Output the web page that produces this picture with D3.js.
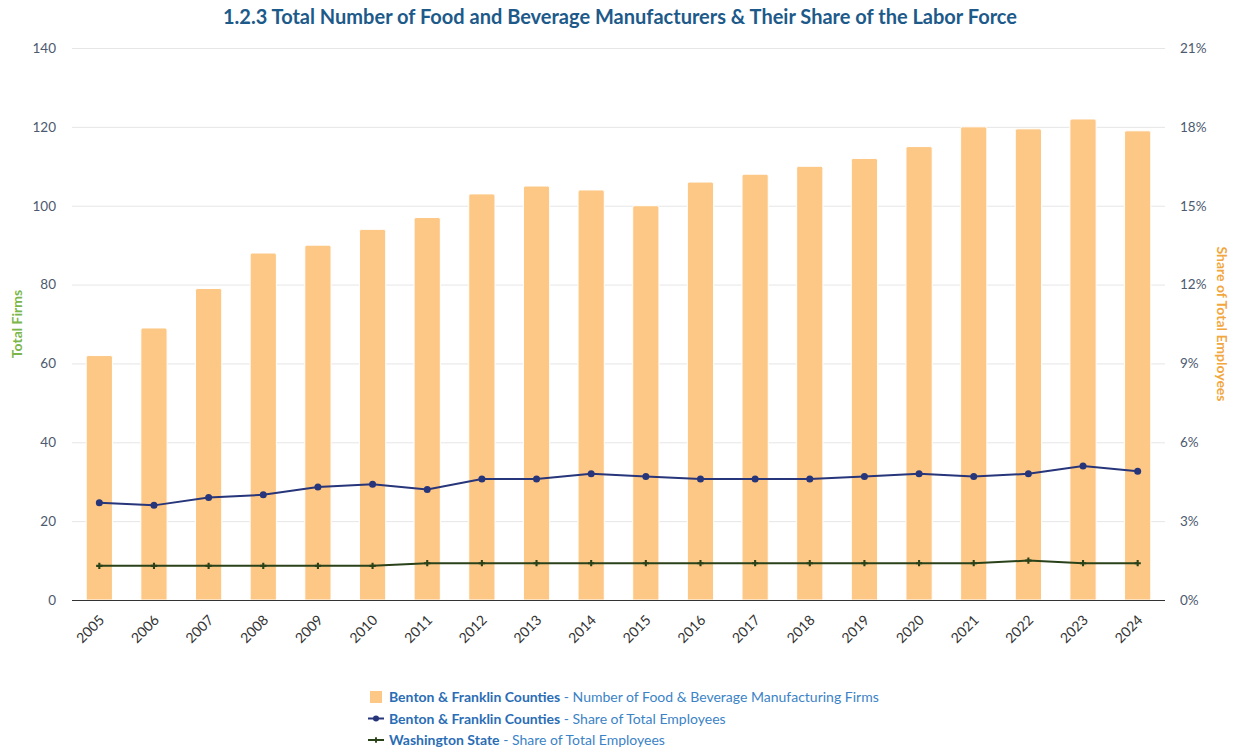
<!DOCTYPE html>
<html>
<head>
<meta charset="utf-8">
<script src="https://cdn.jsdelivr.net/npm/d3@7"></script>
<style>
    body { margin: 0; background: #fff; font-family: Lato, "Open Sans", sans-serif; }
</style>
</head>
<body>
<div id="container"></div>
<script>
// Chart data.
const years = ['2005', '2006', '2007', '2008', '2009', '2010', '2011', '2012', '2013', '2014',
    '2015', '2016', '2017', '2018', '2019', '2020', '2021', '2022', '2023', '2024'];
const firms = [62, 69, 79, 88, 90, 94, 97, 103, 105, 104, 100, 106, 108, 110, 112, 115, 120, 119.5, 122, 119];
const shareBF = [3.7, 3.6, 3.9, 4.0, 4.3, 4.4, 4.2, 4.6, 4.6, 4.8, 4.7, 4.6, 4.6, 4.6, 4.7, 4.8, 4.7, 4.8, 5.1, 4.9];
const shareWA = [1.3, 1.3, 1.3, 1.3, 1.3, 1.3, 1.4, 1.4, 1.4, 1.4, 1.4, 1.4, 1.4, 1.4, 1.4, 1.4, 1.4, 1.5, 1.4, 1.4];
const leftTicks = [0, 20, 40, 60, 80, 100, 120, 140];
const rightTicks = [0, 3, 6, 9, 12, 15, 18, 21];

const barColor = '#fdc886';
const blueColor = '#27357a';
const greenColor = '#2a4219';

window.addEventListener('DOMContentLoaded', () => {

    const width = 1235, height = 753;
    const left = 72, right = 1165, top = 48, bottom = 600;

    const svg = d3.select('#container')
        .append('svg')
        .attr('width', width)
        .attr('height', height);

    const x = d3.scaleBand().domain(years).range([left, right]).paddingInner(0.52).paddingOuter(0.26);
    const xc = d => x(d) + x.bandwidth() / 2;
    const yL = d3.scaleLinear().domain([0, 140]).range([bottom, top]);
    const yR = d3.scaleLinear().domain([0, 21]).range([bottom, top]);

    // Title.
    svg.append('text')
        .attr('x', 620)
        .attr('y', 24)
        .attr('text-anchor', 'middle')
        .attr('font-size', 20)
        .attr('font-weight', 'bold')
        .attr('fill', '#1d5a8a')
        .text('1.2.3 Total Number of Food and Beverage Manufacturers & Their Share of the Labor Force');

    // Gridlines.
    svg.append('g')
        .attr('transform', `translate(${left},0)`)
        .call(d3.axisLeft(yL).tickValues(leftTicks).tickSize(-(right - left)).tickFormat(''))
        .call(g => g.select('.domain').remove())
        .call(g => g.selectAll('line').attr('stroke', '#e6e6e6'));

    // Left axis labels.
    svg.append('g')
        .attr('transform', `translate(${left},0)`)
        .call(d3.axisLeft(yL).tickValues(leftTicks).tickSize(0).tickPadding(16))
        .call(g => g.select('.domain').remove())
        .call(g => g.selectAll('text')
            .attr('font-family', 'Lato, sans-serif')
            .attr('font-size', 13.5)
            .attr('fill', '#4d5a6e'));

    // Right axis labels.
    svg.append('g')
        .attr('transform', `translate(${right},0)`)
        .call(d3.axisRight(yR).tickValues(rightTicks).tickSize(0).tickPadding(15).tickFormat(d => d + '%'))
        .call(g => g.select('.domain').remove())
        .call(g => g.selectAll('text')
            .attr('font-family', 'Lato, sans-serif')
            .attr('font-size', 13.5)
            .attr('fill', '#4d5a6e'));

    // Axis titles.
    svg.append('text')
        .attr('transform', `translate(22,${(top + bottom) / 2}) rotate(-90)`)
        .attr('text-anchor', 'middle')
        .attr('font-size', 14)
        .attr('font-weight', 'bold')
        .attr('fill', '#7ab648')
        .text('Total Firms');

    svg.append('text')
        .attr('transform', `translate(1217,${(top + bottom) / 2}) rotate(90)`)
        .attr('text-anchor', 'middle')
        .attr('font-size', 14)
        .attr('font-weight', 'bold')
        .attr('fill', '#f2a73e')
        .text('Share of Total Employees');

    // Bars with small rounded tops and a white border.
    const r = 2;
    svg.append('g')
        .selectAll('path')
        .data(firms)
        .enter()
        .append('path')
        .attr('d', (d, i) => {
            const x0 = x(years[i]), w = x.bandwidth(), y0 = yL(d), y1 = yL(0);
            return `M${x0},${y1}V${y0 + r}Q${x0},${y0} ${x0 + r},${y0}H${x0 + w - r}Q${x0 + w},${y0} ${x0 + w},${y0 + r}V${y1}Z`;
        })
        .attr('fill', barColor)
        .attr('stroke', '#fff')
        .attr('stroke-width', 1);

    // Bottom axis.
    svg.append('g')
        .attr('transform', `translate(0,${bottom})`)
        .call(d3.axisBottom(x).tickSize(0).tickPadding(12))
        .call(g => g.select('.domain').attr('stroke', '#333').attr('d', `M${left},0.5H${right}`))
        .call(g => g.selectAll('text')
            .attr('font-family', 'Lato, sans-serif')
            .attr('font-size', 14)
            .attr('fill', '#333')
            .attr('text-anchor', 'end')
            .attr('dy', '0.35em')
            .attr('transform', 'translate(-6,9) rotate(-45)'));

    // Lines.
    const lineBF = d3.line().x((d, i) => xc(years[i])).y(d => yR(d));

    svg.append('path')
        .datum(shareBF)
        .attr('d', lineBF)
        .attr('fill', 'none')
        .attr('stroke', blueColor)
        .attr('stroke-width', 2);

    svg.append('g')
        .selectAll('circle')
        .data(shareBF)
        .enter()
        .append('circle')
        .attr('cx', (d, i) => xc(years[i]))
        .attr('cy', d => yR(d))
        .attr('r', 3.5)
        .attr('fill', blueColor);

    svg.append('path')
        .datum(shareWA)
        .attr('d', lineBF)
        .attr('fill', 'none')
        .attr('stroke', greenColor)
        .attr('stroke-width', 2);

    svg.append('g')
        .selectAll('path')
        .data(shareWA)
        .enter()
        .append('path')
        .attr('transform', (d, i) => `translate(${xc(years[i])},${yR(d)})`)
        .attr('d', d3.symbol(d3.symbolCross, 22))
        .attr('fill', greenColor);

    // Legend.
    const legend = [
        { bold: 'Benton & Franklin Counties', rest: ' - Number of Food & Beverage Manufacturing Firms', type: 'bar' },
        { bold: 'Benton & Franklin Counties', rest: ' - Share of Total Employees', type: 'blue' },
        { bold: 'Washington State', rest: ' - Share of Total Employees', type: 'green' }
    ];

    const lg = svg.append('g');
    legend.forEach((item, i) => {
        const ly = 697 + i * 21.5;
        if (item.type === 'bar') {
            lg.append('rect')
                .attr('x', 370).attr('y', ly - 6)
                .attr('width', 12).attr('height', 12)
                .attr('fill', barColor);
        } else {
            const c = item.type === 'blue' ? blueColor : greenColor;
            lg.append('line')
                .attr('x1', 368).attr('x2', 384)
                .attr('y1', ly).attr('y2', ly)
                .attr('stroke', c).attr('stroke-width', 2);
            if (item.type === 'blue') {
                lg.append('circle').attr('cx', 376).attr('cy', ly).attr('r', 3).attr('fill', c);
            } else {
                lg.append('path')
                    .attr('transform', `translate(376,${ly})`)
                    .attr('d', d3.symbol(d3.symbolCross, 18))
                    .attr('fill', c);
            }
        }
        const t = lg.append('text')
            .attr('x', 389)
            .attr('y', ly + 5)
            .attr('font-size', 14);
        t.append('tspan').attr('font-weight', 'bold').attr('fill', '#2a6db5').text(item.bold);
        t.append('tspan').attr('fill', '#3b83c6').text(item.rest);
    });

});
</script>
</body>
</html>
